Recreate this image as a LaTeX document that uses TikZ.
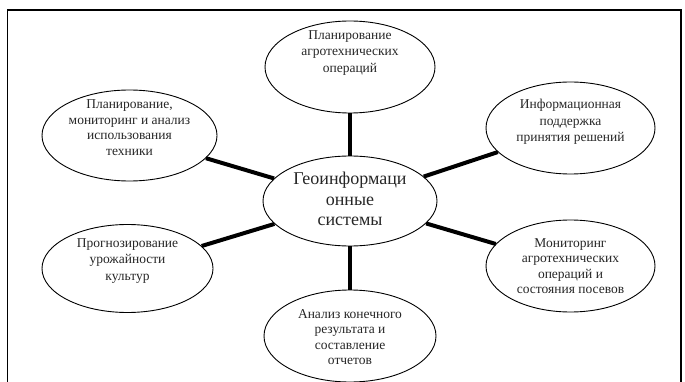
\documentclass[tikz,border=0pt]{standalone}
\usepackage{fontspec}
\setmainfont{Liberation Serif}
\usetikzlibrary{shapes.geometric}
\tikzset{
  ell/.style={draw=black, line width=0.9pt, ellipse, inner sep=0pt},
  conn/.style={draw=black, line width=4pt},
  lbl/.style={align=center, inner sep=0pt, font=\fontsize{13.5}{15.5}\selectfont, text=black!85},
  lblwide/.style={lbl, font=\fontsize{13.5}{16.5}\selectfont},
  big/.style={align=center, inner sep=0pt, font=\fontsize{18}{20.3}\selectfont, text=black!85}
}
\begin{document}
\begin{tikzpicture}[x=1pt,y=-1pt]
\useasboundingbox (0,0) rectangle (685,382);
\draw[line width=1.2pt] (7.5,382) -- (7.5,10) -- (681,10) -- (681,382);
% ellipses
\node[ell, minimum width=170pt, minimum height=92pt] (top) at (350,67) {};
\node[ell, minimum width=175pt, minimum height=91pt] (ul) at (129.5,135.5) {};
\node[ell, minimum width=169pt, minimum height=92pt] (ur) at (570.5,128) {};
\node[ell, minimum width=174pt, minimum height=90pt] (c) at (350,201) {};
\node[ell, minimum width=171pt, minimum height=88pt] (ll) at (127.5,268.5) {};
\node[ell, minimum width=169pt, minimum height=92pt] (lr) at (570.5,266) {};
\node[ell, minimum width=172pt, minimum height=92pt] (bot) at (350,336) {};
% connectors
\draw[conn] (c) -- (top);
\draw[conn] (c) -- (ul);
\draw[conn] (c) -- (ur);
\draw[conn] (c) -- (ll);
\draw[conn] (c) -- (lr);
\draw[conn] (c) -- (bot);
% texts
\node[lblwide] (ttop) at (350,53) {Планирование\\агротехнических\\операций};
\node[lbl] (tul) at (129.5,127.5) {Планирование,\\мониторинг и анализ\\использования\\техники};
\node[lblwide] (tur) at (570.5,122) {Информационная\\поддержка\\принятия решений};
\node[big] (tc) at (350,199) {Геоинформаци\\онные\\системы};
\node[lblwide] (tll) at (127.5,261) {Прогнозирование\\урожайности\\культур};
\node[lbl] (tlr) at (570.5,266) {Мониторинг\\агротехнических\\операций и\\состояния посевов};
\node[lbl] (tbot) at (350,337) {Анализ конечного\\результата и\\составление\\отчетов};
\end{tikzpicture}
\end{document}
